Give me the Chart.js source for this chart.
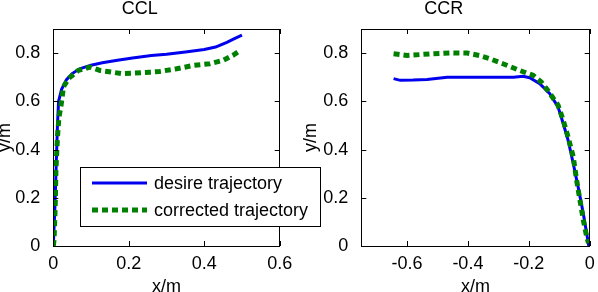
<!DOCTYPE html>
<html>
<head>
<meta charset="UTF-8">
<title>CCL / CCR</title>
<style>
  html, body { margin: 0; padding: 0; background: #fff; }
  #wrap { position: relative; width: 598px; height: 292px; overflow: hidden; }
  #cR { position: absolute; left: 298px; top: 0; z-index: 1; }
  #cL { position: absolute; left: 0; top: 0; z-index: 2; }
</style>
</head>
<body>
<div id="wrap">
  <canvas id="cR" width="355" height="292"></canvas>
  <canvas id="cL" width="333" height="292"></canvas>
</div>

<script src="https://cdn.jsdelivr.net/npm/chart.js"></script>
<script>
// ---- data ----
const seriesNames = ['desire trajectory', 'corrected trajectory'];

// CCL
const cclDesireX = [0, 0.004, 0.008, 0.011, 0.014, 0.022, 0.035, 0.05, 0.07, 0.1, 0.13, 0.17, 0.21, 0.26, 0.3, 0.35, 0.4, 0.43, 0.46, 0.48, 0.5];
const cclDesireY = [0, 0.15, 0.35, 0.5, 0.6, 0.65, 0.69, 0.715, 0.735, 0.75, 0.76, 0.77, 0.78, 0.79, 0.795, 0.805, 0.815, 0.825, 0.845, 0.86, 0.875];
const cclCorrX = [0, 0.002, 0.005, 0.007, 0.011, 0.015, 0.02, 0.027, 0.04, 0.066, 0.097, 0.124, 0.155, 0.181, 0.212, 0.256, 0.282, 0.327, 0.371, 0.415, 0.45, 0.476, 0.496];
const cclCorrY = [0, 0.025, 0.163, 0.315, 0.45, 0.535, 0.577, 0.66, 0.694, 0.728, 0.742, 0.728, 0.721, 0.715, 0.717, 0.721, 0.724, 0.735, 0.749, 0.756, 0.77, 0.791, 0.811];

// CCR
const ccrDesireX = [-0.644, -0.622, -0.58, -0.534, -0.468, -0.35, -0.25, -0.219, -0.197, -0.164, -0.131, -0.104, -0.087, -0.071, -0.054, -0.038, -0.021, -0.01, -0.003];
const ccrDesireY = [0.694, 0.687, 0.688, 0.691, 0.7, 0.7, 0.7, 0.704, 0.698, 0.673, 0.632, 0.577, 0.508, 0.439, 0.342, 0.245, 0.135, 0.053, 0];
const ccrCorrX = [-0.644, -0.6, -0.523, -0.457, -0.402, -0.362, -0.329, -0.285, -0.23, -0.186, -0.159, -0.138, -0.104, -0.087, -0.071, -0.054, -0.043, -0.032, -0.021, -0.01, -0.004];
const ccrCorrY = [0.797, 0.79, 0.797, 0.801, 0.8, 0.79, 0.777, 0.756, 0.728, 0.708, 0.68, 0.646, 0.584, 0.522, 0.452, 0.37, 0.273, 0.19, 0.108, 0.039, 0.012];

const cclXTicks = [0, 0.2, 0.4, 0.6];
const ccrXTicks = [-0.6, -0.4, -0.2, 0];
const yTicks = [0, 0.2, 0.4, 0.6, 0.8];

Chart.defaults.font.family = '"Liberation Sans", Arial, sans-serif';
Chart.defaults.color = '#000';

function pts(xs, ys) {
  return xs.map((x, i) => ({ x: x, y: ys[i] }));
}

// matlab style box with inward ticks
const boxPlugin = {
  id: 'box',
  afterDatasetsDraw(chart) {
    const ctx = chart.ctx, a = chart.chartArea;
    const xs = chart.scales.x, ys = chart.scales.y;
    ctx.save();
    ctx.strokeStyle = '#000';
    ctx.lineWidth = 1;
    ctx.beginPath();
    xs.ticks.forEach(t => {
      const p = Math.round(xs.getPixelForValue(t.value)) + 0.5;
      ctx.moveTo(p, a.bottom); ctx.lineTo(p, a.bottom - 5);
      ctx.moveTo(p, a.top); ctx.lineTo(p, a.top + 5);
    });
    ys.ticks.forEach(t => {
      const p = Math.round(ys.getPixelForValue(t.value)) + 0.5;
      ctx.moveTo(a.left, p); ctx.lineTo(a.left + 5, p);
      ctx.moveTo(a.right, p); ctx.lineTo(a.right - 5, p);
    });
    ctx.stroke();
    ctx.strokeRect(Math.round(a.left) + 0.5, Math.round(a.top) + 0.5, Math.round(a.right - a.left), Math.round(a.bottom - a.top));
    ctx.restore();
  }
};

// legend box sitting over the lower part of the left axes
const legendPlugin = {
  id: 'boxLegend',
  afterDraw(chart) {
    const ctx = chart.ctx;
    const ds = chart.data.datasets;
    ctx.save();
    ctx.fillStyle = '#fff';
    ctx.fillRect(80, 167, 240, 59);
    ctx.strokeStyle = '#000';
    ctx.lineWidth = 1;
    ctx.strokeRect(80.5, 167.5, 240, 59);
    const rows = [183, 210];
    ds.forEach((d, i) => {
      ctx.beginPath();
      ctx.strokeStyle = d.borderColor;
      ctx.lineWidth = d.borderWidth;
      ctx.setLineDash(d.borderDash || []);
      ctx.moveTo(92, rows[i]);
      ctx.lineTo(147, rows[i]);
      ctx.stroke();
      ctx.setLineDash([]);
      ctx.fillStyle = '#000';
      ctx.font = '18px "Liberation Sans", Arial, sans-serif';
      ctx.textBaseline = 'middle';
      ctx.fillText(d.label, 154, rows[i] + 1);
    });
    ctx.restore();
  }
};

function makeChart(id, title, dX, dY, cX, cY, xMin, xMax, xTicks, yAxisW, yTitlePad, extra) {
  return new Chart(document.getElementById(id), {
    type: 'scatter',
    data: {
      datasets: [{
        label: seriesNames[0],
        data: pts(dX, dY),
        showLine: true,
        borderColor: '#0000ee',
        borderWidth: 3,
        pointRadius: 0,
        order: 2
      }, {
        label: seriesNames[1],
        data: pts(cX, cY),
        showLine: true,
        borderColor: '#008000',
        borderWidth: 5,
        borderDash: [6, 4],
        pointRadius: 0,
        order: 1
      }]
    },
    options: {
      responsive: false,
      animation: false,
      events: [],
      layout: { padding: { left: 0, right: yAxisW, top: 0, bottom: 0 } },
      plugins: {
        legend: { display: false },
        tooltip: { enabled: false },
        title: {
          display: true,
          text: title,
          color: '#000',
          font: { size: 18, weight: 'normal', lineHeight: 1 },
          padding: { top: 0, bottom: 11 }
        }
      },
      scales: {
        x: {
          type: 'linear',
          min: xMin, max: xMax,
          afterBuildTicks: s => { s.ticks = xTicks.map(v => ({ value: v })); },
          afterFit: s => { s.height = 46; },
          ticks: { font: { size: 18 }, padding: -1, maxRotation: 0 },
          grid: { display: false },
          border: { display: false },
          title: { display: true, text: 'x/m', font: { size: 18 }, padding: { top: 0, bottom: -6 } }
        },
        y: {
          type: 'linear',
          min: 0, max: 0.9,
          afterBuildTicks: s => { s.ticks = yTicks.map(v => ({ value: v })); },
          afterFit: s => { s.width = yAxisW; },
          ticks: { font: { size: 18 }, padding: 5 },
          grid: { display: false },
          border: { display: false },
          title: { display: true, text: 'y/m', font: { size: 18 }, padding: { top: yTitlePad, bottom: 0 } }
        }
      }
    },
    plugins: [boxPlugin].concat(extra)
  });
}

makeChart('cR', 'CCR', ccrDesireX, ccrDesireY, ccrCorrX, ccrCorrY, -0.75, 0, ccrXTicks, 63.3, 2, []);
makeChart('cL', 'CCL', cclDesireX, cclDesireY, cclCorrX, cclCorrY, 0, 0.6, cclXTicks, 53.3, -6, [legendPlugin]);
</script>
</body>
</html>
